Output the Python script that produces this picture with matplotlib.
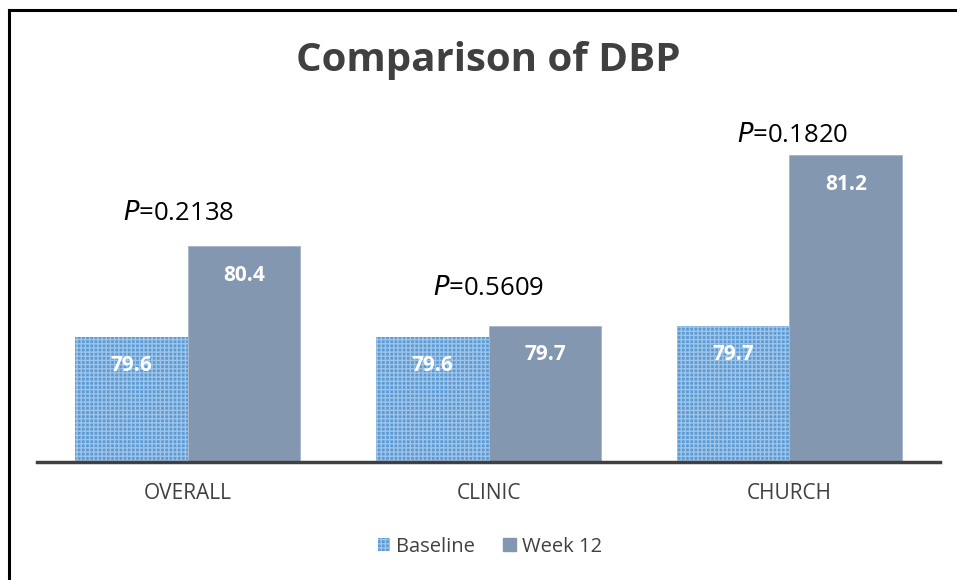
import matplotlib.pyplot as plt
from matplotlib.patches import Patch
import numpy as np

plt.rcParams['font.family'] = ['Open Sans', 'DejaVu Sans']

# --- data ---
groups = ["OVERALL", "CLINIC", "CHURCH"]
baseline = [79.6, 79.6, 79.7]
week12 = [80.4, 79.7, 81.2]
pvals = ["0.2138", "0.5609", "0.1820"]
p_ypos = [80.69, 80.03, 81.37]   # where the P labels sit (data units)
p_xoff = [-0.03, 0.0, 0.01]

base_color = "#5B9BD5"
wk_color = "#8497B0"

fig = plt.figure(figsize=(9.57, 5.8), dpi=100)
ax = fig.add_axes([0.0387, 0.2034, 0.9435, 0.588])

x = np.arange(len(groups))
w = 0.375

b1 = ax.bar(x - w / 2, baseline, w, color=base_color, edgecolor="#9FC4E8",
            hatch="++++", linewidth=0, label="Baseline")
b2 = ax.bar(x + w / 2, week12, w, color=wk_color, edgecolor="#A5B4C8",
            linewidth=0.6, label="Week 12")

ax.set_ylim(78.5, 81.5)
ax.set_xlim(-0.5, 2.5)

# value labels inside bars near the top
for bars, vals in [(b1, baseline), (b2, week12)]:
    for r, v in zip(bars, vals):
        ax.text(r.get_x() + r.get_width() / 2, v - 0.255, f"{v:.1f}",
                ha="center", va="center", color="white", fontsize=15,
                fontweight="bold")

# P values
for i, (p, py) in enumerate(zip(pvals, p_ypos)):
    ax.text(i + p_xoff[i], py, r"$\it{P}$" + "=" + p, ha="center", va="center",
            fontsize=18.5, color="black")

ax.set_xticks(x)
ax.set_xticklabels(groups, fontsize=15, color="#404040")
ax.tick_params(axis="x", length=0, pad=15)
ax.set_yticks([])
for s in ["top", "right", "left"]:
    ax.spines[s].set_visible(False)
ax.spines["bottom"].set_color("#404040")
ax.spines["bottom"].set_linewidth(2.5)

fig.text(0.5105, 1 - 60 / 580, "Comparison of DBP", fontsize=29,
         fontweight="bold", color="#404040", ha="center", va="center")

handles = [Patch(facecolor=base_color, edgecolor="#9FC4E8", hatch="++++", linewidth=0),
           Patch(facecolor=wk_color, edgecolor=wk_color)]
fig.legend(handles, ["Baseline", "Week 12"], loc="center",
           bbox_to_anchor=(0.512, 0.057), ncol=2, frameon=False,
           fontsize=14.5, handlelength=0.6, handleheight=0.6,
           handletextpad=0.3, columnspacing=1.4, labelcolor="#404040")

# outer frame (left and top edges visible)
fig.add_artist(plt.Line2D([0.0094, 0.0094], [0, 0.983], color="black", lw=2.2))
fig.add_artist(plt.Line2D([0.0094, 1.0], [0.983, 0.983], color="black", lw=2.2))

fig.savefig("out.png", dpi=100)
